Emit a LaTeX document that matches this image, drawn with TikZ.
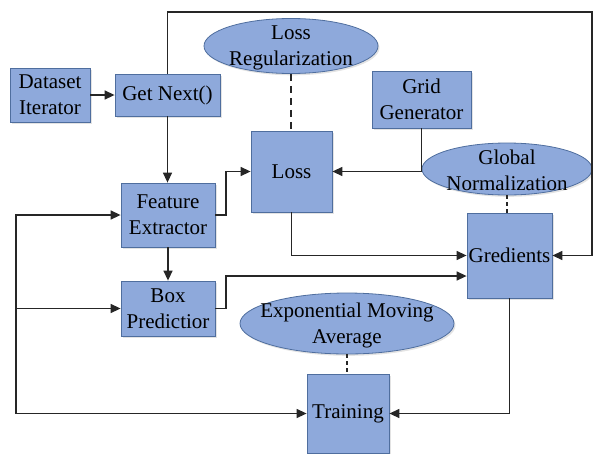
\documentclass[tikz,border=0pt]{standalone}
\usepackage{fontspec}
\setmainfont{Liberation Serif}
\usetikzlibrary{arrows.meta,shadows,calc,shapes.geometric}
\definecolor{boxfill}{HTML}{8EA9DB}
\definecolor{boxline}{HTML}{4F6E9E}
\begin{document}
\begin{tikzpicture}[x=1pt,y=-1pt,
  every node/.style={font=\fontsize{21}{26}\selectfont, align=center, inner sep=0pt},
  blk/.style={draw=boxline, line width=0.8pt, fill=boxfill, rectangle,
     drop shadow={opacity=0.22, shadow xshift=1.5pt, shadow yshift=-1.8pt}},
  ellip/.style={draw=boxline, line width=0.8pt, fill=boxfill, ellipse,
     drop shadow={opacity=0.22, shadow xshift=1.5pt, shadow yshift=-1.8pt}},
  conn/.style={draw=black!85, line width=1.4pt},
  arr/.style={conn, -{Triangle[length=10pt,width=9pt]}},
  dsh/.style={conn, dash pattern=on 7pt off 5pt},
  dshs/.style={conn, dash pattern=on 4pt off 3pt}]
\useasboundingbox (0,0) rectangle (593,453);

% boxes
\node[blk, minimum width=80, minimum height=54] (ds) at (50,95) {Dataset\\Iterator};
\node[blk, minimum width=105, minimum height=42] (gn) at (167.5,95) {Get Next()};
\node[blk, minimum width=94, minimum height=64] (fe) at (168,215) {Feature\\Extractor};
\node[blk, minimum width=94, minimum height=55] (bp) at (168,308.5) {Box\\Predictior};
\node[blk, minimum width=81, minimum height=81] (loss) at (291.5,171.5) {Loss};
\node[blk, minimum width=99, minimum height=57] (grid) at (421.5,99.5) {Grid\\Generator};
\node[blk, minimum width=85, minimum height=85] (gred) at (509.5,255.5) {Gredients};
\node[blk, minimum width=82, minimum height=79] (train) at (348,413.5) {Training};

% ellipses
\node[ellip, minimum width=174, minimum height=55] (lreg) at (291,46) {};
\node at ([yshift=-1.5pt]lreg.center) {Loss\\Regularization};
\node[ellip, minimum width=170, minimum height=52] (glob) at (507,169) {};
\node at ([yshift=-1.5pt]glob.center) {Global\\Normalization};
\node[ellip, minimum width=214, minimum height=61] (ema) at (347,323.5) {};
\node at ([yshift=-2pt]ema.center) {Exponential Moving\\Average};

% helper coordinates
\coordinate (jx) at (226,0);
\coordinate (tr) at (592,12);
\coordinate (bl) at (16,413.5);

% connectors
\draw[arr] (ds.east) -- (gn.west);
\draw[arr] (gn.south) -- (gn.south |- fe.north);
\draw[arr] (fe.south) -- (fe.south |- bp.north);
\draw[arr] (fe.east) -- (fe.east -| jx) |- (loss.west);
\draw[arr] (bp.east) -- (bp.east -| jx) |- ([yshift=-20.5pt]gred.west);
\draw[arr] (loss.south) |- (gred.west);
\draw[arr] (grid.south) |- (loss.east);
\draw[arr] (gn.north) |- (tr) |- (gred.east);
\draw[arr] (bl) |- (fe.west);
\draw[arr] (bl) |- (bp.west);
\draw[arr] (bl) -- (train.west);
\draw[arr] (gred.south) |- (train.east);

% dashed links
\draw[dsh] (lreg.south) -- (lreg.south |- loss.north);
\draw[dshs] (glob.south) -- (glob.south |- gred.north);
\draw[dshs] (ema.south) -- (ema.south |- train.north);
\end{tikzpicture}
\end{document}
